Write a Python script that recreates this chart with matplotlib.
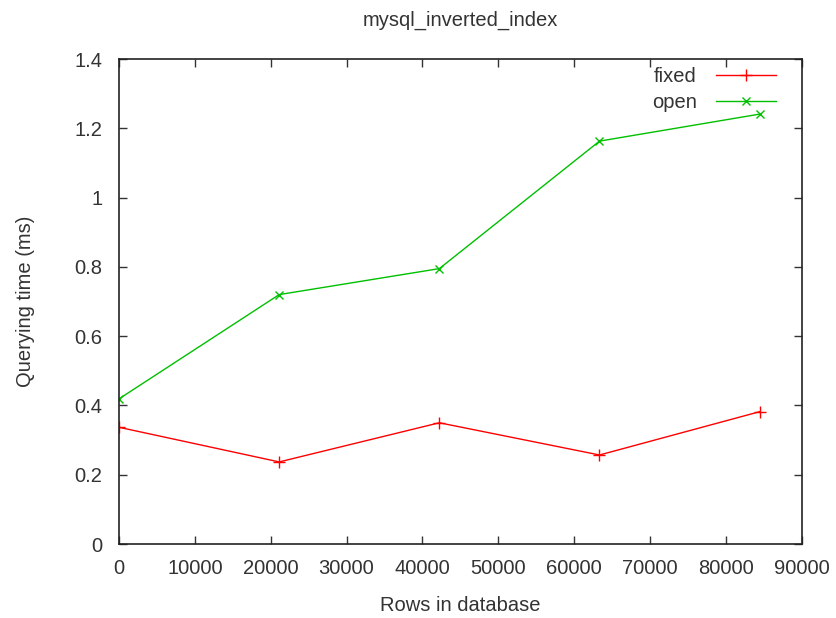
import matplotlib.pyplot as plt

plt.rcParams['font.family'] = ['Liberation Sans', 'DejaVu Sans']

rows = [0, 21120, 42240, 63360, 84480]
fixed = [0.337, 0.237, 0.350, 0.257, 0.382]
open_ = [0.419, 0.720, 0.795, 1.163, 1.241]

fs = 14.5
fig = plt.figure(figsize=(8.37, 6.18), dpi=100)
ax = fig.add_axes([0.1422, 0.1197, 0.8154, 0.7848])

ax.plot(rows, fixed, color='#ff0000', marker='+', markersize=8, lw=1, label='fixed')
ax.plot(rows, open_, color='#00c000', marker='x', markersize=6, lw=1, label='open')

ax.set_xlim(0, 90000)
ax.set_ylim(0, 1.4)
ax.set_xticks(range(0, 90001, 10000))
ax.set_yticks([0, 0.2, 0.4, 0.6, 0.8, 1, 1.2, 1.4])
ax.set_yticklabels(['0', '0.2', '0.4', '0.6', '0.8', '1', '1.2', '1.4'])
ax.tick_params(direction='in', top=True, right=True, length=6, width=1,
               labelsize=fs, colors='#333333')
ax.tick_params(axis='y', pad=12)
ax.tick_params(axis='x', pad=11)
for s in ax.spines.values():
    s.set_linewidth(1.2)
    s.set_color('#222222')

ax.set_xlabel('Rows in database', fontsize=fs, color='#333333')
ax.set_ylabel('Querying time (ms)', fontsize=fs, color='#333333')
ax.xaxis.set_label_coords(0.5, -0.107)
ax.yaxis.set_label_coords(-0.123, 0.5)
ax.set_title('mysql_inverted_index', fontsize=fs, color='#333333', pad=24)

ax.legend(loc='upper right', bbox_to_anchor=(0.963, 0.983), frameon=False,
          markerfirst=False, fontsize=fs, handlelength=3.0, handletextpad=0.95,
          borderaxespad=0, borderpad=0, labelspacing=0.35, labelcolor='#333333')

fig.savefig('out.png', dpi=100)
